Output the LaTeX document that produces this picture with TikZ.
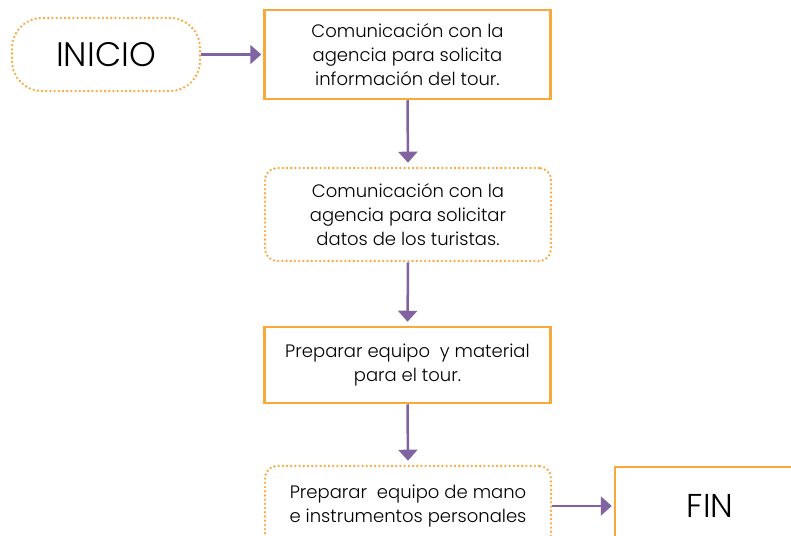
\documentclass[tikz,border=0pt]{standalone}
\usepackage{fontspec}
\IfFontExistsTF{Poppins Light}{\setmainfont{Poppins Light}}{\setmainfont{Poppins}}
\usetikzlibrary{arrows.meta}
\definecolor{org}{HTML}{F9A83C}
\definecolor{purp}{HTML}{8064A2}
\tikzset{
  solidbox/.style={draw=org, line width=2.5pt, minimum width=286pt, align=center, font=\fontsize{18}{24}\selectfont, inner sep=0pt},
  dotbox/.style={draw=org, line width=2.6pt, line cap=round, dash pattern=on 0pt off 4.2pt, rounded corners=12pt, minimum width=286pt, align=center, font=\fontsize{18}{24}\selectfont, inner sep=0pt},
  conn/.style={draw=purp, line width=2.5pt, -{Triangle[length=11pt,width=19pt]}},
}
\begin{document}
\begin{tikzpicture}[x=1pt,y=-1pt]
\useasboundingbox (0,0) rectangle (791,535);
\node[dotbox, rounded corners=30pt, minimum width=188pt, minimum height=73pt, font=\fontsize{34}{40}\selectfont] (inicio) at (106,54.5) {INICIO};
\node[solidbox, minimum height=89pt] (b1) at (407.5,54.5) {Comunicación con la\\agencia para solicita\\información del tour.};
\node[dotbox, minimum height=93pt] (b2) at (408,214.5) {Comunicación con la\\agencia para solicitar\\datos de los turistas.};
\node[solidbox, minimum height=76pt] (b3) at (407.5,365) {Preparar equipo\ \ y material\\para el tour.};
\node[dotbox, minimum height=80pt] (b4) at (408,506) {Preparar\ \ equipo de mano\\e instrumentos personales};
\node[solidbox, minimum width=200pt, minimum height=78pt, font=\fontsize{33}{38}\selectfont] (fin) at (715,506) {\hspace*{-10pt}FIN};
\draw[conn, shorten >=2pt] (inicio.east) -- (b1.west);
\draw[conn, shorten >=4pt] (b1.south) -- (b2.north);
\draw[conn, shorten >=4pt] (b2.south) -- (b3.north);
\draw[conn, shorten >=4pt] (b3.south) -- (b4.north);
\draw[conn, shorten >=2pt] (b4.east) -- (fin.west);
\end{tikzpicture}
\end{document}
